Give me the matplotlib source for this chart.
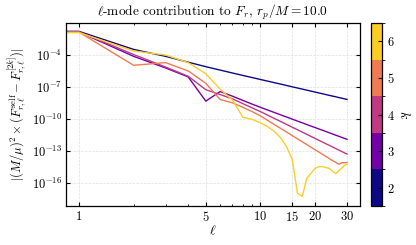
import numpy as np
import matplotlib
matplotlib.use("Agg")
import matplotlib.pyplot as plt
from matplotlib.colors import ListedColormap, BoundaryNorm
from matplotlib.cm import ScalarMappable

plt.rcParams['mathtext.fontset'] = 'cm'
plt.rcParams['font.family'] = ['cmr10', 'DejaVu Serif']
plt.rcParams['axes.formatter.use_mathtext'] = True

# %% data: log10 of |(M/mu)^2 (F_self - F_[2k])| for l = 0..30
ell = np.arange(0, 31)
k_vals = [2, 3, 4, 5, 6]

log_k2 = [-1.83, -1.83, -3.52, -4.17, -4.72, -5.14, -5.46, -5.73, -5.96, -6.16, -6.34,
          -6.50, -6.65, -6.78, -6.91, -7.03, -7.14, -7.24, -7.34, -7.43, -7.52,
          -7.60, -7.68, -7.76, -7.83, -7.90, -7.96, -8.03, -8.09, -8.15, -8.21]
log_k3 = [-1.88, -1.88, -4.17, -5.26, -6.10, -8.37, -7.47, -7.90, -8.30, -8.65, -8.95,
          -9.21, -9.45, -9.67, -9.87, -10.06, -10.24, -10.40, -10.56, -10.71, -10.84,
          -10.98, -11.10, -11.22, -11.34, -11.45, -11.56, -11.66, -11.76, -11.86, -11.95]
log_k4 = [-1.86, -1.86, -4.00, -5.17, -6.04, -7.30, -7.75, -8.15, -8.60, -9.00, -9.35,
          -9.70, -10.01, -10.30, -10.57, -10.82, -11.05, -11.27, -11.48, -11.68, -11.86,
          -12.04, -12.21, -12.37, -12.52, -12.67, -12.81, -12.95, -13.08, -13.21, -13.33]
log_k5 = [-1.90, -1.90, -5.01, -4.76, -5.54, -6.70, -8.22, -8.52, -8.95, -9.35, -9.75,
          -10.19, -10.59, -10.95, -11.29, -11.61, -11.90, -12.18, -12.44, -12.69, -12.93,
          -13.14, -13.36, -13.56, -13.76, -13.95, -14.10, -14.28, -14.15, -14.14, -14.12]
log_k6 = [-1.95, -1.95, -3.67, -4.05, -4.76, -5.80, -7.25, -8.25, -9.88, -10.08, -10.40,
          -10.77, -11.24, -11.86, -12.70, -13.90, -17.00, -17.30, -15.60, -15.13, -14.67,
          -14.51, -14.50, -14.60, -14.67, -14.96, -15.17, -14.90, -14.65, -14.40, -14.28]

series = [log_k2, log_k3, log_k4, log_k5, log_k6]

# %% plot
colors = plt.cm.plasma(np.linspace(0, 0.9, len(k_vals)))
xmin, xmax = 0.85, 35.3

fig = plt.figure(figsize=(4.16, 2.45), dpi=100)
ax = fig.add_axes([0.159, 0.159, 0.706, 0.747])
cax = fig.add_axes([0.891, 0.159, 0.027, 0.747])

# l = 0 can't go on a log axis, pin it to the left edge
ell_plot = np.where(ell == 0, xmin, ell)
for vals, c in zip(series, colors):
    ax.plot(ell_plot, 10.0 ** np.array(vals), color=c, lw=1.0)

ax.set_xscale('log')
ax.set_yscale('log')
ax.set_xlim(xmin, xmax)
ax.set_ylim(10 ** -18.2, 10 ** -1.05)

xt = [1, 5, 10, 15, 20, 30]
ax.set_xticks(xt)
ax.set_xticklabels([r'$%d$' % v for v in xt])
ax.set_xticks([2, 3, 4, 6, 7, 8, 9], minor=True)
ax.xaxis.set_minor_formatter(plt.NullFormatter())
yt = [-16, -13, -10, -7, -4]
ax.set_yticks([10.0 ** v for v in yt])
ax.set_yticklabels([r'$10^{%d}$' % v for v in yt])
ax.yaxis.set_minor_locator(plt.NullLocator())

ax.tick_params(which='both', direction='in', top=True, right=True, labelsize=9, pad=3)
ax.tick_params(which='major', length=3)
ax.tick_params(which='minor', length=1.5)
ax.grid(True, which='major', ls='--', lw=0.5, color='#e0e0e0')
for s in ax.spines.values():
    s.set_linewidth(0.9)

ax.set_xlabel(r'$\ell$', fontsize=10, labelpad=0)
ax.set_ylabel(r'$|(M/\mu)^2 \times (F^{\mathrm{self}}_{r,\ell} - F^{[2k]}_{r,\ell})|$',
              fontsize=9, labelpad=2)
ax.set_title(r'$\ell$-mode contribution to $F_r$, $r_p/M = 10.0$', fontsize=9.6, pad=5)

# discrete colorbar for k
cmap = ListedColormap(colors)
norm = BoundaryNorm(np.arange(1.5, 7.0, 1.0), cmap.N)
cb = fig.colorbar(ScalarMappable(norm=norm, cmap=cmap), cax=cax, ticks=k_vals)
cb.ax.set_yticklabels([r'$%d$' % v for v in k_vals])
cb.ax.tick_params(labelsize=9, direction='in', length=3)
cb.outline.set_linewidth(0.9)
cb.set_label(r'$k$', fontsize=10, rotation=-90, labelpad=12)

fig.savefig('out.png', dpi=100)
